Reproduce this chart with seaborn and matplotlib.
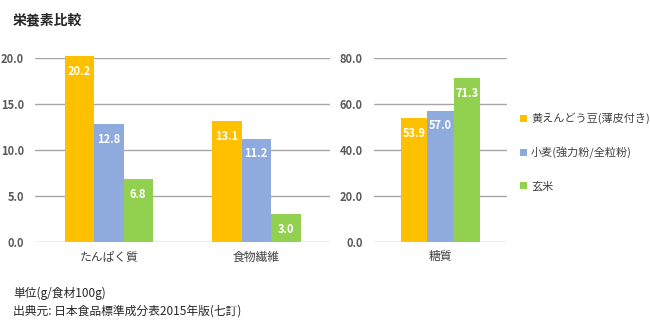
import matplotlib
matplotlib.use("Agg")
import matplotlib.pyplot as plt
import seaborn as sns
import pandas as pd
from matplotlib.patches import Patch

sns.set_theme(style="white")
plt.rcParams['font.family'] = ['Noto Sans CJK JP', 'DejaVu Sans']

# ---- data ----
series = ["黄えんどう豆(薄皮付き)", "小麦(強力粉/全粒粉)", "玄米"]
left_categories = ["たんぱく質", "食物繊維"]
left_values = {
    "黄えんどう豆(薄皮付き)": [20.2, 13.1],
    "小麦(強力粉/全粒粉)": [12.8, 11.2],
    "玄米": [6.8, 3.0],
}
right_categories = ["糖質"]
right_values = {
    "黄えんどう豆(薄皮付き)": [53.9],
    "小麦(強力粉/全粒粉)": [57.0],
    "玄米": [71.3],
}
left_ticks = [0.0, 5.0, 10.0, 15.0, 20.0]
right_ticks = [0.0, 20.0, 40.0, 60.0, 80.0]
title = "栄養素比較"
notes = ["単位(g/食材100g)", "出典元: 日本食品標準成分表2015年版(七訂)"]

colors = ["#FFC000", "#8FAADC", "#92D050"]
palette = dict(zip(series, colors))


def make_df(cats, vals):
    rows = []
    for s in series:
        for c, v in zip(cats, vals[s]):
            rows.append({"category": c, "series": s, "value": v})
    return pd.DataFrame(rows)


fig = plt.figure(figsize=(6.5, 3.23), dpi=100)
ax1 = fig.add_axes([35 / 650, 1 - 242 / 323, 295 / 650, 184 / 323])
ax2 = fig.add_axes([374 / 650, 1 - 242 / 323, 133 / 650, 184 / 323])

grid_color = "#A6A6A6"
tick_color = "#595959"

for ax, cats, vals, ticks in [
    (ax1, left_categories, left_values, left_ticks),
    (ax2, right_categories, right_values, right_ticks),
]:
    df = make_df(cats, vals)
    sns.barplot(data=df, x="category", y="value", hue="series",
                hue_order=series, order=cats, palette=palette,
                width=0.6, gap=0, saturation=1, legend=False, ax=ax,
                edgecolor="none", linewidth=0, zorder=3)
    ax.set_ylim(ticks[0], ticks[-1])
    ax.set_yticks(ticks)
    ax.set_yticklabels([f"{t:.1f}" for t in ticks], fontsize=8,
                       color=tick_color, fontweight="bold")
    ax.set_xlim(-0.5, len(cats) - 0.5)
    ax.set_xlabel("")
    ax.set_ylabel("")
    for sp in ax.spines.values():
        sp.set_visible(False)
    ax.grid(axis="y", color=grid_color, linewidth=1.0, zorder=0)
    ax.set_axisbelow(True)
    ax.tick_params(axis="y", length=0, pad=8)
    ax.tick_params(axis="x", length=0, pad=6, labelsize=8.5, labelcolor="#404040")
    for cont in ax.containers:
        for p in cont:
            p.set_clip_on(False)
            ax.annotate(f"{p.get_height():.1f}",
                        (p.get_x() + p.get_width() / 2, p.get_height()),
                        xytext=(0, -15), textcoords="offset pixels",
                        ha="center", va="center", color="white",
                        fontsize=8, fontweight="bold", zorder=5,
                        annotation_clip=False)

handles = [Patch(facecolor=palette[s], edgecolor="none") for s in series]
fig.legend(handles, series, loc="center left",
           bbox_to_anchor=(510 / 650, 1 - 152 / 323), frameon=False,
           fontsize=8, handlelength=0.6, handleheight=0.6,
           handletextpad=0.4, labelspacing=2.0, labelcolor="#404040")

fig.text(13 / 650, 1 - 20 / 323, title, fontsize=10, fontweight="bold",
         va="center", ha="left", color="#262626")
fig.text(13 / 650, 1 - 293 / 323, notes[0], fontsize=8.5, va="center",
         ha="left", color="#262626")
fig.text(13 / 650, 1 - 311 / 323, notes[1], fontsize=8.5, va="center",
         ha="left", color="#262626")

fig.savefig("out.png", dpi=100, facecolor="white")
